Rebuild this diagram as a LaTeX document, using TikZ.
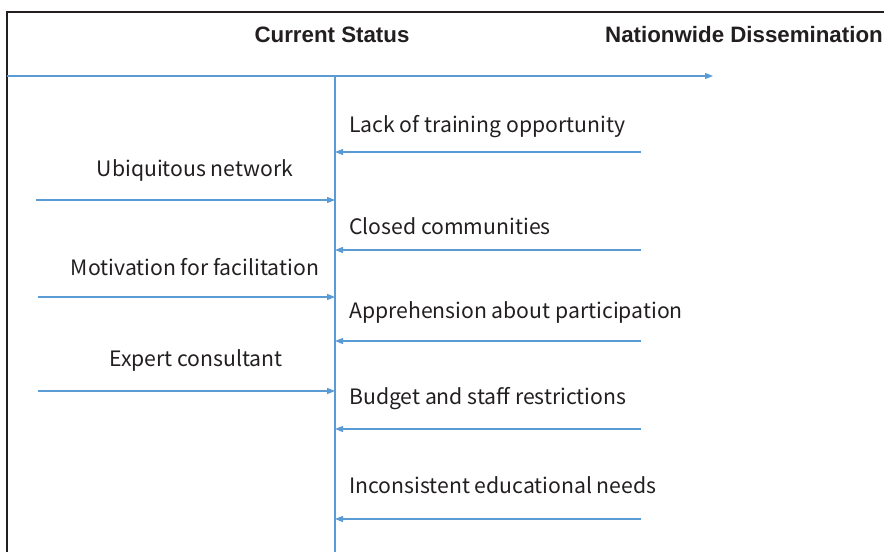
\documentclass[tikz,border=0pt]{standalone}
\usepackage{fontspec}
\setmainfont{Noto Sans CJK JP}
\newfontfamily\headfont{Liberation Sans}
\usetikzlibrary{arrows.meta,positioning}
\definecolor{axisblue}{HTML}{5B9BD5}
\definecolor{framegray}{HTML}{231F20}

\begin{document}
\begin{tikzpicture}[x=1pt, y=-1pt,
    flow/.style={draw=axisblue, line width=1.2pt, -{Triangle[length=8pt,width=6pt]}},
    lbl/.style={inner sep=0pt, font=\fontsize{21.2}{25}\selectfont, text=framegray},
    head/.style={inner sep=0pt, font=\headfont\bfseries\fontsize{22.3}{26}\selectfont, text=framegray}]
        \useasboundingbox (0,0) rectangle (884,552);
        \draw[framegray, line width=1.5pt] (7,552) -- (7,12) -- (884,12);

        % headings
        \node[head, anchor=base] (status) at (332,42) {Current Status};
        \node[head, anchor=base west] (nation) at (605,42) {Nationwide Dissemination};

        % time axis and the present moment
        \coordinate (start) at (7,76);
        \coordinate (end) at (713,76);
        \coordinate (now) at (335,76);
        \coordinate (nowbot) at (335,552);
        \draw[flow] (start) -- (end);
        \draw[axisblue, line width=1.2pt] (now) -- (nowbot);

        % obstacles (right side)
        \node[lbl, anchor=base west] (lack) at (349,132) {Lack of training opportunity};
        \node[lbl, anchor=base west] (closed) at (349,234) {Closed communities};
        \node[lbl, anchor=base west] (appr) at (349,318) {Apprehension about participation};
        \node[lbl, anchor=base west] (budget) at (349,404) {Budget and staff restrictions};
        \node[lbl, anchor=base west] (incons) at (349,493) {Inconsistent educational needs};

        \foreach \n/\y in {lack/152, closed/250, appr/341, budget/429, incons/519} {
            \coordinate (\n-r) at (641,\y);
            \coordinate (\n-l) at (335,\y);
            \draw[flow] (\n-r) -- (\n-l);
        }

        % drivers (left side)
        \node[lbl, anchor=base] (ubiq) at (195,176) {Ubiquitous network};
        \node[lbl, anchor=base] (motiv) at (195,275) {Motivation for facilitation};
        \node[lbl, anchor=base] (expert) at (196,366) {Expert consultant};

        \foreach \n/\x/\y in {ubiq/36/200, motiv/38/297, expert/38/391} {
            \coordinate (\n-l) at (\x,\y);
            \coordinate (\n-r) at (335,\y);
            \draw[flow] (\n-l) -- (\n-r);
        }
    \end{tikzpicture}
\end{document}
